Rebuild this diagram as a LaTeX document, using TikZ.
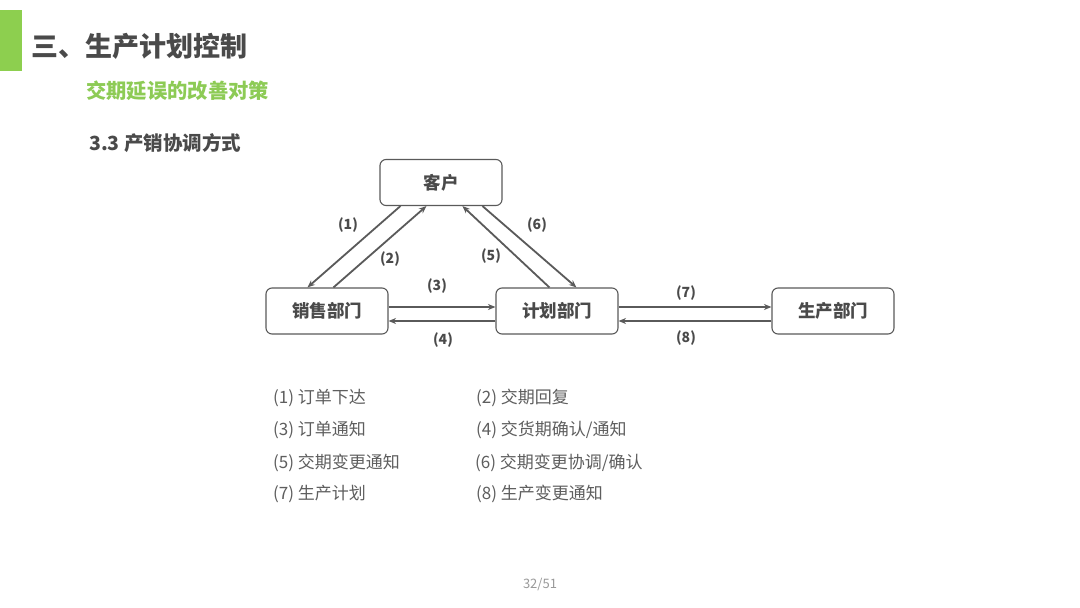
\documentclass[tikz,border=0pt]{standalone}
\usepackage{fontspec}
\setmainfont{Noto Sans CJK SC}
\usetikzlibrary{arrows.meta}
\definecolor{barg}{HTML}{8DCF4F}
\definecolor{subg}{HTML}{8DCB55}
\definecolor{ttl}{HTML}{4A4A4A}
\definecolor{lnc}{HTML}{5A5A5A}
\definecolor{lgd}{HTML}{5E5E5E}
\tikzset{
  dept/.style={draw=lnc, line width=1.1pt, rounded corners=6pt, minimum width=122pt, minimum height=46pt, inner sep=0pt, font=\fontsize{17.5}{19}\selectfont\bfseries, text=ttl},
  flow/.style={draw=lnc, line width=1.8pt, -{Stealth[length=7.5pt,width=6pt]}},
  num/.style={font=\fontsize{14}{16}\selectfont\bfseries, text=ttl},
  lg/.style={anchor=west, font=\fontsize{17}{19}\selectfont, text=lgd, inner sep=0pt}
}
\begin{document}
\begin{tikzpicture}[x=1pt,y=-1pt]
\useasboundingbox[fill=white] (0,0) rectangle (1080,608);
\fill[barg] (0,10) rectangle (22,71);
\node[anchor=west, inner sep=0pt, font=\fontsize{27}{31}\selectfont\bfseries, text=ttl] (title) at (31,46) {三、生产计划控制};
\node[anchor=west, inner sep=0pt, font=\fontsize{20.3}{24}\selectfont\bfseries, text=subg] (sub) at (86,91) {交期延误的改善对策};
\node[anchor=west, inner sep=0pt, font=\fontsize{19.5}{23}\selectfont\bfseries, text=ttl] (sec) at (89,143) {3.3 产销协调方式};

\node[dept] (kh) at (441,182.5) {客户};
\node[dept] (xs) at (327,311) {销售部门};
\node[dept] (jh) at (557,311) {计划部门};
\node[dept] (sc) at (833,311) {生产部门};

\draw[flow] ([xshift=21pt]kh.south west) -- ([xshift=42pt]xs.north west);
\draw[flow] ([xshift=68pt]xs.north west) -- ([xshift=47pt]kh.south west);
\draw[flow] ([xshift=54pt]jh.north west) -- ([xshift=83pt]kh.south west);
\draw[flow] ([xshift=103pt]kh.south west) -- ([xshift=81pt]jh.north west);
\draw[flow] ([yshift=4pt]xs.east) -- ([yshift=4pt]jh.west);
\draw[flow] ([yshift=-10pt]jh.west) -- ([yshift=-10pt]xs.east);
\draw[flow] ([yshift=4pt]jh.east) -- ([yshift=4pt]sc.west);
\draw[flow] ([yshift=-10pt]sc.west) -- ([yshift=-10pt]jh.east);

\node[num] (n1) at (348,225) {(1)};
\node[num] (n2) at (390,259) {(2)};
\node[num] (n3) at (437,286) {(3)};
\node[num] (n4) at (443,340) {(4)};
\node[num] (n5) at (491,256) {(5)};
\node[num] (n6) at (537,225) {(6)};
\node[num] (n7) at (686,293) {(7)};
\node[num] (n8) at (686,338) {(8)};

\node[lg] (l1) at (273,398) {(1) 订单下达};
\node[lg] (l2) at (476,398) {(2) 交期回复};
\node[lg] (l3) at (273,430) {(3) 订单通知};
\node[lg] (l4) at (476,430) {(4) 交货期确认/通知};
\node[lg] (l5) at (273,463) {(5) 交期变更通知};
\node[lg] (l6) at (475,463) {(6) 交期变更协调/确认};
\node[lg] (l7) at (273,494) {(7) 生产计划};
\node[lg] (l8) at (476,494) {(8) 生产变更通知};

\node[font=\fontsize{13}{15}\selectfont, text=gray!80] (pg) at (540,584) {32/51};
\end{tikzpicture}
\end{document}
